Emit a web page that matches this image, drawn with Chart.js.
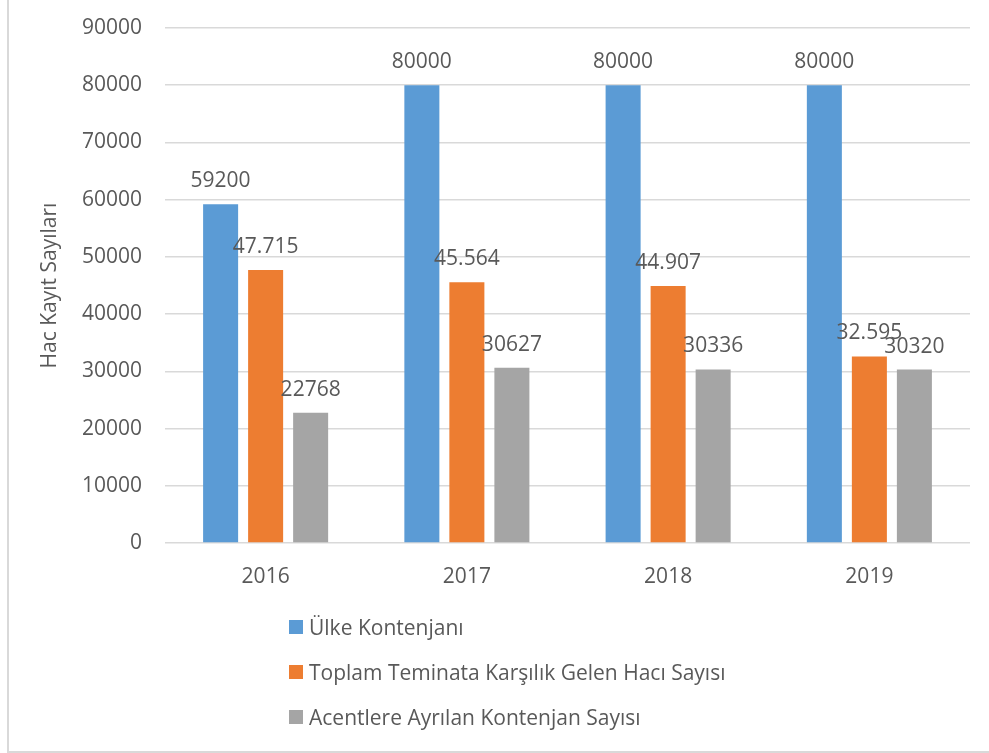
<!DOCTYPE html>
<html>
<head>
<meta charset="utf-8">
<script src="https://cdn.jsdelivr.net/npm/chart.js@4/dist/chart.umd.min.js"></script>
<style>
    body { margin: 0; overflow: hidden; background: #fff; font-family: "Open Sans", sans-serif; }
    #cerceve { position: absolute; left: 7px; top: -10px; width: 1000px; height: 759px; border: 2px solid #d9d9d9; }
    #grafik { position: absolute; left: 0; top: 0; }
    #lejant { position: absolute; left: 289px; top: 612px; color: #595959; font-size: 21px; }
    .satir { display: flex; align-items: center; height: 30px; margin-bottom: 15px; }
    .kutu { width: 14px; height: 14px; margin-right: 6px; }
</style>
</head>
<body>
<div id="cerceve"></div>
<canvas id="grafik" width="989" height="753"></canvas>
<div id="lejant"></div>
<script>
// veriler
const yillar = ['2016', '2017', '2018', '2019']
const seriAdlari = ['Ülke Kontenjanı', 'Toplam Teminata Karşılık Gelen Hacı Sayısı', 'Acentlere Ayrılan Kontenjan Sayısı']
const seriRenkleri = ['#5b9bd5', '#ed7d31', '#a5a5a5']
const ulkeKontenjani = [59200, 80000, 80000, 80000]
const teminatHaciSayisi = [47715, 45564, 44907, 32595]
const acenteKontenjani = [22768, 30627, 30336, 30320]
const ulkeEtiketleri = ['59200', '80000', '80000', '80000']
const teminatEtiketleri = ['47.715', '45.564', '44.907', '32.595']
const acenteEtiketleri = ['22768', '30627', '30336', '30320']

const yaziRengi = '#595959'
const yaziTipi = '"Open Sans", sans-serif'

let seriler = [ulkeKontenjani, teminatHaciSayisi, acenteKontenjani]
let etiketler = [ulkeEtiketleri, teminatEtiketleri, acenteEtiketleri]

let datasets = []
for (let i = 0; i < seriler.length; i++) {
    datasets.push({
        label: seriAdlari[i],
        data: seriler[i],
        etiketler: etiketler[i],
        backgroundColor: seriRenkleri[i],
        categoryPercentage: 0.671,
        barPercentage: 0.778
    })
}

// cubuklarin ustune deger yazisi
const degerEtiketleri = {
    id: 'degerEtiketleri',
    afterDatasetsDraw(chart) {
        const ctx = chart.ctx
        ctx.save()
        ctx.font = `21px ${yaziTipi}`
        ctx.fillStyle = yaziRengi
        ctx.textAlign = 'center'
        ctx.textBaseline = 'alphabetic'
        chart.data.datasets.forEach((ds, i) => {
            chart.getDatasetMeta(i).data.forEach((bar, j) => {
                ctx.fillText(ds.etiketler[j], bar.x, bar.y - 17)
            })
        })
        ctx.restore()
    }
}

const grafik = new Chart(document.getElementById('grafik'), {
    type: 'bar',
    data: {
        labels: yillar,
        datasets: datasets
    },
    options: {
        responsive: false,
        animation: false,
        layout: {
            padding: { left: 0, right: 19, top: 28, bottom: 160 }
        },
        plugins: {
            legend: { display: false },
            tooltip: { enabled: false }
        },
        scales: {
            x: {
                grid: { display: false },
                border: { display: false },
                ticks: {
                    color: yaziRengi,
                    font: { family: yaziTipi, size: 21 },
                    padding: 13
                },
                afterFit: function (scale) { scale.height = 50 }
            },
            y: {
                min: 0,
                max: 90000,
                ticks: {
                    stepSize: 10000,
                    color: yaziRengi,
                    font: { family: yaziTipi, size: 21 },
                    padding: 23,
                    callback: function (value) { return String(value) }
                },
                grid: {
                    color: '#d9d9d9',
                    lineWidth: 1.5,
                    drawTicks: false
                },
                border: { display: false },
                title: {
                    display: true,
                    text: 'Hac Kayıt Sayıları',
                    color: yaziRengi,
                    font: { family: yaziTipi, size: 21 },
                    padding: { top: 37, bottom: 0 }
                },
                afterFit: function (scale) {
                    scale.width = 165
                    scale.paddingTop = 0
                    scale.paddingBottom = 0
                }
            }
        }
    },
    plugins: [degerEtiketleri]
})

// lejant (dikey)
let lejant = document.getElementById('lejant')
for (let i = 0; i < seriAdlari.length; i++) {
    let satir = document.createElement('div')
    satir.className = 'satir'
    satir.innerHTML = `<span class="kutu" style="background:${seriRenkleri[i]}"></span><span>${seriAdlari[i]}</span>`
    lejant.appendChild(satir)
}
</script>
</body>
</html>
